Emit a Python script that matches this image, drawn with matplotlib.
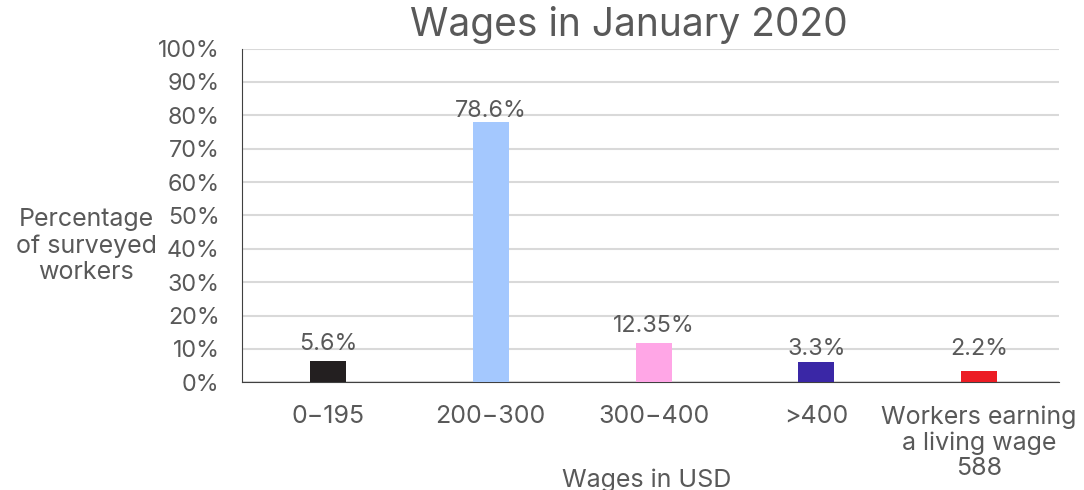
import numpy as np
import matplotlib
matplotlib.use("Agg")
import matplotlib.pyplot as plt

# Wage bands and survey shares (bar heights as drawn, labels as printed)
categories = ["0\u2212195", "200\u2212300", "300\u2212400", ">400",
              "Workers earning\na living wage\n588"]
bar_values = [6.4, 78.1, 11.8, 6.1, 3.4]
bar_labels = ["5.6%", "78.6%", "12.35%", "3.3%", "2.2%"]
label_heights = [9.7, 79.6, 15.1, 8.2, 8.2]   # baseline of each label
bar_colors = ["#231f20", "#a4c8fe", "#ffa6e6", "#3a27a6", "#ec1c24"]
yticks = list(range(0, 101, 10))

text_grey = "#595959"
plt.rcParams['font.family'] = ['Inter', 'DejaVu Sans']

fig = plt.figure(figsize=(10.84, 4.9), dpi=100)
ax = fig.add_axes([0.2232, 0.2198, 0.7537, 0.6812])

x = np.arange(len(categories))
ax.bar(x, bar_values, width=0.221, color=bar_colors, zorder=3)

# data labels
for xi, lab, ly in zip(x, bar_labels, label_heights):
    ax.text(xi, ly, lab, ha='center', va='baseline', fontsize=16.8,
            color=text_grey, zorder=4)

ax.set_ylim(0, 100)
ax.set_xlim(-0.528, 4.49)
ax.set_yticks(yticks)
ax.set_yticklabels([f"{t}%" for t in yticks], fontsize=16.8, color=text_grey)
ax.set_xticks(x)
ax.set_xticklabels(categories, fontsize=18, color=text_grey,
                   linespacing=1.13, va='top')
ax.tick_params(axis='both', length=0)
ax.tick_params(axis='x', pad=16.5)
ax.tick_params(axis='y', pad=16)

ax.grid(axis='y', color='#d9d9d9', linewidth=1.5, zorder=0)
for side in ['top', 'right']:
    ax.spines[side].set_visible(False)
ax.spines['left'].set_color('#404040')
ax.spines['bottom'].set_color('#404040')

fig.text(0.580, 0.949, "Wages in January 2020", ha='center', va='center',
         fontsize=28, color=text_grey)
fig.text(0.0793, 0.498, "Percentage\nof surveyed\nworkers", ha='center',
         va='center', fontsize=18, color=text_grey, linespacing=1.17)
fig.text(0.597, 0.020, "Wages in USD", ha='center', va='center',
         fontsize=18, color=text_grey)

fig.savefig("out.png", dpi=100)
